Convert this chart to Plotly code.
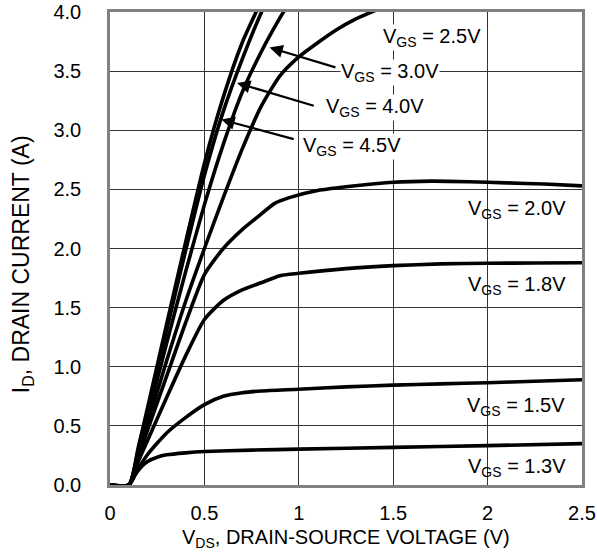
import plotly.graph_objects as go

# ---- data ----
vgs45_x = [0, 0.1, 0.15, 0.2, 0.3, 0.4, 0.5, 0.6, 0.7, 0.78, 0.82]
vgs45_y = [0, 0, 0.32, 0.66, 1.36, 2.05, 2.72, 3.28, 3.74, 4.02, 4.15]

vgs40_x = [0, 0.1, 0.15, 0.2, 0.3, 0.4, 0.5, 0.6, 0.7, 0.8, 0.84]
vgs40_y = [0, 0, 0.3, 0.63, 1.31, 1.98, 2.62, 3.16, 3.6, 3.99, 4.12]

vgs30_x = [0, 0.1, 0.15, 0.2, 0.3, 0.4, 0.5, 0.6, 0.7, 0.8, 0.9, 0.95]
vgs30_y = [0, 0, 0.28, 0.58, 1.2, 1.8, 2.37, 2.88, 3.32, 3.66, 3.95, 4.08]

vgs25_x = [0, 0.1, 0.15, 0.2, 0.3, 0.4, 0.5, 0.6, 0.7, 0.8, 0.9, 1.0, 1.1, 1.2, 1.3, 1.4, 1.5]
vgs25_y = [0, 0, 0.25, 0.52, 1.05, 1.55, 2.0, 2.43, 2.84, 3.2, 3.46, 3.62, 3.74, 3.85, 3.94, 4.01, 4.08]

vgs20_x = [0, 0.1, 0.15, 0.2, 0.3, 0.4, 0.5, 0.6, 0.7, 0.8, 0.87, 0.95, 1.1, 1.3, 1.5, 1.7, 1.9, 2.1, 2.3, 2.5]
vgs20_y = [0, 0, 0.23, 0.47, 0.92, 1.37, 1.78, 2.0, 2.16, 2.29, 2.38, 2.43, 2.49, 2.53, 2.56, 2.57, 2.565, 2.555, 2.545, 2.53]

vgs18_x = [0, 0.1, 0.15, 0.2, 0.3, 0.4, 0.5, 0.6, 0.7, 0.8, 0.9, 1.0, 1.25, 1.5, 1.75, 2.0, 2.25, 2.5]
vgs18_y = [0, 0, 0.2, 0.38, 0.74, 1.09, 1.4, 1.56, 1.65, 1.71, 1.77, 1.79, 1.83, 1.855, 1.87, 1.875, 1.878, 1.88]

vgs15_x = [0, 0.1, 0.15, 0.2, 0.3, 0.4, 0.5, 0.6, 0.7, 0.8, 1.0, 1.25, 1.5, 1.75, 2.0, 2.25, 2.5]
vgs15_y = [0, 0, 0.14, 0.26, 0.44, 0.57, 0.68, 0.75, 0.78, 0.795, 0.81, 0.83, 0.845, 0.855, 0.865, 0.877, 0.89]

vgs13_x = [0, 0.1, 0.13, 0.17, 0.2, 0.25, 0.3, 0.4, 0.5, 0.75, 1.0, 1.5, 2.0, 2.5]
vgs13_y = [0, 0, 0.08, 0.16, 0.2, 0.235, 0.255, 0.272, 0.283, 0.295, 0.303, 0.318, 0.333, 0.35]

x_tickvals = [0, 0.5, 1, 1.5, 2, 2.5]
x_ticktext = ["0", "0.5", "1", "1.5", "2", "2.5"]
y_tickvals = [0, 0.5, 1.0, 1.5, 2.0, 2.5, 3.0, 3.5, 4.0]
y_ticktext = ["0.0", "0.5", "1.0", "1.5", "2.0", "2.5", "3.0", "3.5", "4.0"]

series = [
    (vgs45_x, vgs45_y), (vgs40_x, vgs40_y), (vgs30_x, vgs30_y), (vgs25_x, vgs25_y),
    (vgs20_x, vgs20_y), (vgs18_x, vgs18_y), (vgs15_x, vgs15_y), (vgs13_x, vgs13_y),
]

# label texts and anchor positions (data coords)
left_labels = [  # (text, x_left, y_center)
    ("2.5V", 1.44, 3.785),
    ("3.0V", 1.22, 3.49),
    ("4.0V", 1.14, 3.19),
    ("4.5V", 1.017, 2.86),
]
right_labels = [  # (text, x_right, y_center)
    ("2.0V", 2.426, 2.33),
    ("1.8V", 2.426, 1.685),
    ("1.5V", 2.42, 0.66),
    ("1.3V", 2.426, 0.144),
]
arrows = [  # (tip_x, tip_y, tail_x, tail_y)
    (0.845, 3.70, 1.202, 3.528),
    (0.673, 3.40, 1.087, 3.203),
    (0.590, 3.09, 0.981, 2.921),
]

FONT = "Liberation Sans, Arial, Helvetica, sans-serif"

fig = go.Figure()
for xs, ys in series:
    fig.add_trace(go.Scatter(x=xs, y=ys, mode="lines",
                             line=dict(color="black", width=3.6, shape="spline", smoothing=0.6),
                             showlegend=False, hoverinfo="skip"))

annotations = []
for txt, xl, yc in left_labels:
    annotations.append(dict(x=xl, y=yc, xref="x", yref="y", xanchor="left", yanchor="middle",
                            text="V<sub>GS</sub> = " + txt, showarrow=False,
                            font=dict(size=20, color="black", family=FONT),
                            bgcolor="white", borderpad=0))
for txt, xr, yc in right_labels:
    annotations.append(dict(x=xr, y=yc, xref="x", yref="y", xanchor="right", yanchor="middle",
                            text="V<sub>GS</sub> = " + txt, showarrow=False,
                            font=dict(size=20, color="black", family=FONT)))
for tx, ty, ax, ay in arrows:
    annotations.append(dict(x=tx, y=ty, ax=ax, ay=ay, xref="x", yref="y", axref="x", ayref="y",
                            text="", showarrow=True, arrowhead=2, arrowsize=1.2, arrowwidth=2.2,
                            arrowcolor="black", standoff=0, startstandoff=0))

annotations.append(dict(x=0.5, y=-0.114, xref="paper", yref="paper", xanchor="center", yanchor="middle",
                        text="V<sub>DS</sub>, DRAIN-SOURCE VOLTAGE (V)", showarrow=False,
                        font=dict(size=20, color="black", family=FONT)))
annotations.append(dict(x=-0.185, y=0.466, xref="paper", yref="paper", xanchor="center", yanchor="middle",
                        text="I<sub>D</sub>, DRAIN CURRENT (A)", showarrow=False, textangle=-90,
                        font=dict(size=23, color="black", family=FONT)))

fig.update_layout(
    width=597, height=560,
    margin=dict(l=110, r=15, t=12, b=75, autoexpand=False),
    paper_bgcolor="white", plot_bgcolor="white",
    font=dict(family=FONT, size=20, color="black"),
    annotations=annotations,
    xaxis=dict(range=[0, 2.5], tickvals=x_tickvals, ticktext=x_ticktext, automargin=False,
               showgrid=True, gridcolor="#333333", gridwidth=1, zeroline=False,
               showline=True, mirror=True, linecolor="#808080", linewidth=2.5,
               ticks="", ticklabelstandoff=8, tickfont=dict(size=20, color="black")),
    yaxis=dict(range=[0, 4], tickvals=y_tickvals, ticktext=y_ticktext, automargin=False,
               showgrid=True, gridcolor="#333333", gridwidth=1, zeroline=False,
               showline=True, mirror=True, linecolor="#808080", linewidth=2.5,
               ticks="", ticklabelstandoff=22, tickfont=dict(size=20, color="black")),
)

fig.write_html("out.html")
